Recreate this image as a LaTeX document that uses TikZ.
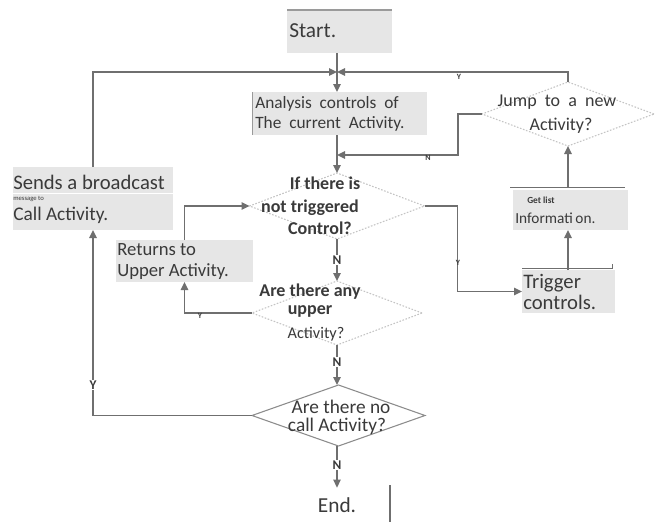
\documentclass[tikz,border=0pt]{standalone}
\usepackage{fontspec}
\setmainfont{Carlito}
\usetikzlibrary{shapes.geometric,arrows.meta}
\definecolor{flowline}{HTML}{6F6F6F}
\definecolor{boxfill}{HTML}{E6E6E6}
\definecolor{ink}{HTML}{3A3A3A}
\definecolor{faint}{HTML}{C4C4C4}
\definecolor{edgeline}{HTML}{9A9A9A}

\newcommand{\fs}[1]{\fontsize{#1}{#1}\selectfont}

\begin{document}
\begin{tikzpicture}[x=0.75pt,y=-0.75pt,
  wh/.style 2 args={minimum width=#1*0.75pt, minimum height=#2*0.75pt},
  box/.style={rectangle, fill=boxfill, draw=none, inner sep=0pt, outer sep=0pt},
  decision/.style={diamond, inner sep=0pt, outer sep=0pt, draw=faint,
    dash pattern=on 1.2pt off 1.2pt, line width=0.8pt},
  solidecision/.style={diamond, inner sep=0pt, outer sep=0pt, draw=flowline!80, line width=0.8pt},
  flow/.style={draw=flowline, line width=1.1pt},
  arr/.style={flow, -{Triangle[length=6pt,width=5.5pt]}},
  txt/.style={text=ink, inner sep=0pt},
  boldtxt/.style={text=ink, inner sep=0pt, font=\fs{13.5}\bfseries},
  yn/.style={text=ink, inner sep=0.6pt, fill=white, font=\fs{10}\bfseries},
  smallyn/.style={text=ink, inner sep=0pt, font=\fs{6}\bfseries}]

\useasboundingbox[fill=white] (0,0) rectangle (662,522);

% ---- process boxes ----
\node[box, wh={105}{43}] (start)    at (339.5,31.5) {};
\node[box, wh={175}{43}] (analysis) at (339.5,113.5) {};
\node[box, wh={160}{63}] (sends)    at (93,198.5) {};
\node[box, wh={137}{42}] (returns)  at (184.5,261) {};
\node[box, wh={115}{40}] (getlist)  at (570.5,210) {};
\node[box, wh={93}{43}]  (trigger)  at (568.5,291.5) {};
\node[inner sep=0pt, outer sep=0pt, wh={106}{40}] (endn) at (337,505) {};

% ---- decisions ----
\node[decision, wh={175}{66}]     (cond1) at (337,206) {};
\node[decision, wh={170}{64}]     (cond2) at (337,313) {};
\node[solidecision, wh={173}{61}] (cond3) at (338.5,415.5) {};
\node[decision, wh={172}{64}]     (jump)  at (568,114) {};

% ---- box edges ----
\draw[edgeline, line width=0.8pt] (start.north west) -- (start.north east);
\draw[edgeline, line width=0.5pt] (analysis.north west) -- (analysis.south west);
\draw[white, line width=0.6pt] ([yshift=-19.5pt]sends.north west) -- ([yshift=-19.5pt]sends.north east);
\draw[flowline, line width=0.7pt] ([xshift=-2pt,yshift=2.2pt]getlist.north west) -- ([xshift=-2pt,yshift=2.2pt]getlist.north east);
\draw[flowline, line width=0.7pt] ([yshift=1.5pt]trigger.north west) -- ([xshift=-2pt,yshift=1.5pt]trigger.north east) -- ++(0,-4);
\draw[flowline, line width=0.8pt] (endn.north east) -- (endn.south east);

% ---- texts ----
\node[txt, font=\fs{16}, anchor=west] (tstart) at (289,31) {Start.};
\node[txt, font=\fs{13}, anchor=west] (tana1) at (255,104) {Analysis\ \ controls\ \ of};
\node[txt, font=\fs{13}, anchor=west] (tana2) at (255,124) {The\ \ current\ \ Activity.};
\node[txt, font=\fs{13.5}] (tjump1) at (557,102) {Jump\ \ to\ \ a\ \ new};
\node[txt, font=\fs{13.5}] (tjump2) at (561,126) {Activity?};
\node[txt, font=\fs{15.5}, anchor=west] (tsend1) at (13,182) {Sends a broadcast};
\node[txt, font=\fs{5}, anchor=west] (tsend2) at (13,199) {message to};
\node[txt, font=\fs{14.5}, anchor=west] (tsend3) at (13,215) {Call\ Activity.};
\node[boldtxt] (tc11) at (325,183) {If there is};
\node[boldtxt] (tc12) at (310,208) {not triggered};
\node[boldtxt] (tc13) at (320,228) {Control?};
\node[txt, font=\fs{14}, anchor=west] (tret1) at (117,250) {Returns to};
\node[txt, font=\fs{14}, anchor=west] (tret2) at (117,272) {Upper Activity.};
\node[boldtxt] (tc21) at (310,292) {Are there any};
\node[boldtxt] (tc22) at (310,311) {upper};
\node[txt, font=\fs{12.2}] (tc23) at (316,334) {Activity?};
\node[txt, font=\fs{14.5}] (tc31) at (341,407) {Are there no};
\node[txt, font=\fs{14.5}] (tc32) at (337,426) {call Activity?};
\node[txt, font=\fs{15.5}, anchor=west] (ttrig1) at (523,283) {Trigger};
\node[txt, font=\fs{15.5}, anchor=west] (ttrig2) at (523,302) {controls.};
\node[txt, font=\fs{7}\bfseries, anchor=west] (tget1) at (527,200) {Get list};
\node[txt, font=\fs{11.5}, anchor=west] (tget2) at (515,218) {Informati\,on.};
\node[txt, font=\fs{16}] (tend) at (337,505) {End.};

% ---- connectors ----
\coordinate (jn) at (337,72);
\coordinate (nj) at (337,155);
\draw[flow] (start.south -| jn) -- (jn);
\draw[arr] (jn) -- (analysis.north -| jn);
\draw[arr] (sends.north) |- (jn);
\draw[arr] (jump.north) |- (jn);
\node[smallyn] (ly1) at (459,77) {Y};

\draw[flow] (analysis.south -| jn) -- (nj);
\draw[arr] (nj) -- (cond1.north);
\draw[arr] (jump.west) -- ++(-24,0) |- (nj);
\node[smallyn] (ln1) at (428,158) {N};

\draw[arr] (cond1.east) -- ++(33,0) |- (trigger.west);
\node[smallyn] (ly2) at (458,263) {Y};

\draw[arr] (trigger.north -| jump.south) -- (getlist.south -| jump.south);
\draw[arr] ([yshift=2.2pt]getlist.north -| jump.south) -- (jump.south);

\draw[arr] (cond1.south) -- (cond2.north);
\node[yn] (ln2) at (337,260) {N};

\draw[arr] (cond2.west) -| (returns.south);
\node[smallyn] (ly3) at (200,316) {Y};
\draw[arr] (returns.north) |- (cond1.west);

\draw[arr] (cond2.south) -- (cond3.north -| cond2.south);
\node[yn] (ln3) at (337,362) {N};

\draw[arr] (cond3.west) -| (sends.south);
\node[yn] (ly4) at (93,385) {Y};

\draw[arr] (cond3.south -| jn) -- ([yshift=-2pt]endn.north);
\node[yn] (ln4) at (337,465) {N};

\end{tikzpicture}
\end{document}
